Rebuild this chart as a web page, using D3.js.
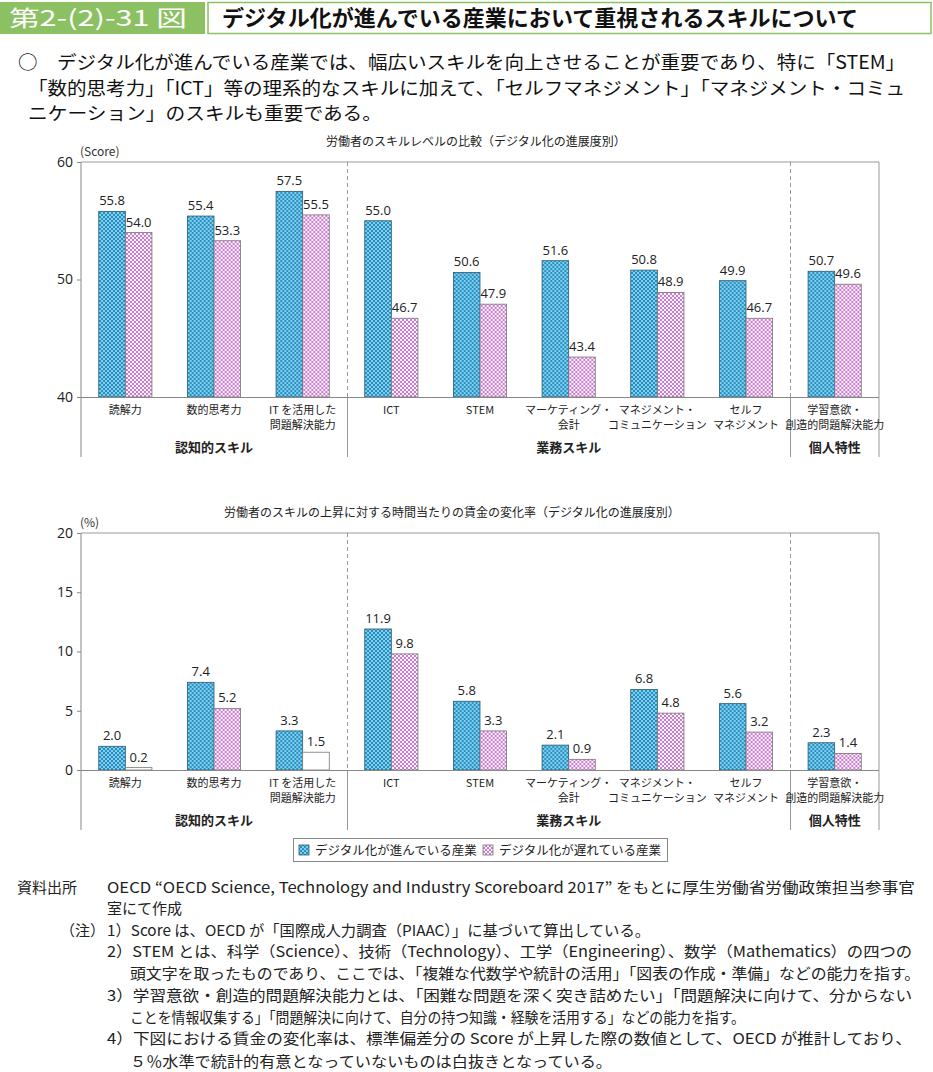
<!DOCTYPE html>
<html>
<head>
<meta charset="utf-8">
<script src="https://cdn.jsdelivr.net/npm/d3@7"></script>
<style>
  html, body { margin: 0; padding: 0; background: #fff; }
  svg { display: block; font-family: "Noto Sans CJK JP", "Noto Sans", sans-serif; }
</style>
</head>
<body>
<svg id="fig" width="933" height="1072"></svg>
<script>
// categories (multi-line labels) and groups
const categories = [
    ['読解力'],
    ['数的思考力'],
    ['IT を活用した', '問題解決能力'],
    ['ICT'],
    ['STEM'],
    ['マーケティング・', '会計'],
    ['マネジメント・', 'コミュニケーション'],
    ['セルフ', 'マネジメント'],
    ['学習意欲・', '創造的問題解決能力']
];
const groupNames = ['認知的スキル', '業務スキル', '個人特性'];
const groupSizes = [3, 5, 1];

const seriesNames = ['デジタル化が進んでいる産業', 'デジタル化が遅れている産業'];

// upper chart: score
const scoreAdvanced = [55.8, 55.4, 57.5, 55.0, 50.6, 51.6, 50.8, 49.9, 50.7];
const scoreLagging = [54.0, 53.3, 55.5, 46.7, 47.9, 43.4, 48.9, 46.7, 49.6];
const scoreTicks = [40, 50, 60];

// lower chart: wage change rate (%)
const wageAdvanced = [2.0, 7.4, 3.3, 11.9, 5.8, 2.1, 6.8, 5.6, 2.3];
const wageLagging = [0.2, 5.2, 1.5, 9.8, 3.3, 0.9, 4.8, 3.2, 1.4];
const wageLaggingSignificant = [false, true, false, true, true, true, true, true, true];
const wageTicks = [0, 5, 10, 15, 20];

const svg = d3.select('#fig');
const defs = svg.append('defs');

// blue dotted pattern
let pb = defs.append('pattern').attr('id', 'patBlue')
    .attr('patternUnits', 'userSpaceOnUse').attr('width', 4).attr('height', 4);
pb.append('rect').attr('width', 4).attr('height', 4).attr('fill', '#1f93c8');
pb.append('circle').attr('cx', 1).attr('cy', 1).attr('r', 0.9).attr('fill', '#bfe6f5');
pb.append('circle').attr('cx', 3).attr('cy', 3).attr('r', 0.9).attr('fill', '#bfe6f5');

// pink crosshatch pattern
let pp = defs.append('pattern').attr('id', 'patPink')
    .attr('patternUnits', 'userSpaceOnUse').attr('width', 4).attr('height', 4);
pp.append('rect').attr('width', 4).attr('height', 4).attr('fill', '#fbf2fb');
pp.append('path').attr('d', 'M0,0L4,4M4,0L0,4').attr('stroke', '#c46fc9').attr('stroke-width', 0.9);

// ---------- header ----------
svg.append('rect').attr('x', 0).attr('y', 2).attr('width', 205).attr('height', 32).attr('fill', '#8cc163');
svg.append('text').attr('x', 9).attr('y', 26).attr('fill', '#fff')
    .attr('font-size', 22).attr('textLength', 178).attr('lengthAdjust', 'spacingAndGlyphs')
    .text('第2-(2)-31 図');
svg.append('rect').attr('x', 208).attr('y', 2.5).attr('width', 723).attr('height', 31)
    .attr('fill', '#fff').attr('stroke', '#8cc163').attr('stroke-width', 1.5);
svg.append('text').attr('x', 222).attr('y', 26).attr('fill', '#111')
    .attr('font-size', 22).attr('font-weight', 'bold')
    .attr('textLength', 636).attr('lengthAdjust', 'spacingAndGlyphs')
    .text('デジタル化が進んでいる産業において重視されるスキルについて');

const leadLines = [
    {x: 18, y: 69, w: 887, t: '○　デジタル化が進んでいる産業では、幅広いスキルを向上させることが重要であり、特に「STEM」'},
    {x: 28, y: 95, w: 877, t: '「数的思考力」「ICT」等の理系的なスキルに加えて、「セルフマネジメント」「マネジメント・コミュ'},
    {x: 28, y: 120, w: 354, t: 'ニケーション」のスキルも重要である。'}
];
svg.selectAll('text.lead').data(leadLines).enter().append('text')
    .attr('class', 'lead')
    .attr('x', d => d.x).attr('y', d => d.y)
    .attr('font-size', 18).attr('fill', '#111')
    .attr('textLength', d => d.w).attr('lengthAdjust', 'spacingAndGlyphs')
    .text(d => d.t);

// ---------- chart drawing ----------
const left = 81, right = 879;
const x0 = d3.scaleBand().domain(d3.range(categories.length)).range([left, right]).padding(0);
const x1 = d3.scaleBand().domain([0, 1])
    .range([x0.bandwidth() * 0.2, x0.bandwidth() * 0.8]).padding(0);

// boundaries between groups
const groupStarts = [];
let acc = 0;
groupSizes.forEach(s => { groupStarts.push(acc); acc += s; });

function drawChart(opt) {
    const g = svg.append('g');
    const y = d3.scaleLinear().domain(opt.domain).range([opt.bottom, opt.top]);

    // chart title and unit
    g.append('text').attr('x', opt.titleX).attr('y', opt.top - 16)
        .attr('text-anchor', 'middle').attr('font-size', 12).attr('fill', '#222')
        .text(opt.title);
    g.append('text').attr('x', left - 1).attr('y', opt.top - 6)
        .attr('font-size', 12).attr('fill', '#333').text(opt.unit);

    // frame
    g.append('line').attr('x1', left).attr('x2', right).attr('y1', opt.top).attr('y2', opt.top)
        .attr('stroke', '#999');
    g.append('line').attr('x1', right).attr('x2', right).attr('y1', opt.top).attr('y2', opt.frameBottom)
        .attr('stroke', '#999');
    g.append('line').attr('x1', left).attr('x2', left).attr('y1', opt.top).attr('y2', opt.frameBottom)
        .attr('stroke', '#888');

    // group separators
    groupStarts.slice(1).forEach(s => {
        const sx = Math.round(x0(s)) + 0.5;
        g.append('line').attr('x1', sx).attr('x2', sx).attr('y1', opt.top).attr('y2', opt.bottom)
            .attr('stroke', '#999').attr('stroke-dasharray', '4,3');
        g.append('line').attr('x1', sx).attr('x2', sx).attr('y1', opt.bottom).attr('y2', opt.frameBottom)
            .attr('stroke', '#999');
    });

    // y axis
    const yAxis = d3.axisLeft(y).tickValues(opt.ticks).tickSize(4).tickPadding(4);
    const ya = g.append('g').attr('transform', `translate(${left},0)`).call(yAxis);
    ya.select('.domain').remove();
    ya.selectAll('.tick line').attr('stroke', '#888');
    ya.selectAll('.tick text').attr('font-size', 14).attr('fill', '#222')
        .attr('font-family', '"Open Sans", "Noto Sans", sans-serif');

    // bars
    const rows = categories.map((c, i) => ({i: i, vals: [opt.adv[i], opt.lag[i]]}));
    const cat = g.selectAll('g.cat').data(rows).enter().append('g')
        .attr('class', 'cat').attr('transform', d => `translate(${x0(d.i)},0)`);
    cat.selectAll('rect').data(d => d.vals.map((v, k) => ({v: v, k: k, i: d.i}))).enter().append('rect')
        .attr('x', d => x1(d.k))
        .attr('y', d => y(d.v))
        .attr('width', x1.bandwidth())
        .attr('height', d => y(opt.domain[0]) - y(d.v))
        .attr('fill', d => {
            if (d.k === 0) return 'url(#patBlue)';
            if (opt.sig && !opt.sig[d.i]) return '#fff';
            return 'url(#patPink)';
        })
        .attr('stroke', d => d.k === 0 ? '#2b5a70' : '#777')
        .attr('stroke-width', 0.8);
    cat.selectAll('text.val').data(d => d.vals.map((v, k) => ({v: v, k: k}))).enter().append('text')
        .attr('class', 'val')
        .attr('x', d => x1(d.k) + x1.bandwidth() / 2)
        .attr('y', d => y(d.v) - 6)
        .attr('text-anchor', 'middle').attr('font-size', 13).attr('fill', '#222')
        .attr('font-family', '"Open Sans", "Noto Sans", sans-serif')
        .text(d => d.v.toFixed(1));

    // baseline
    g.append('line').attr('x1', left).attr('x2', right)
        .attr('y1', opt.bottom + 0.5).attr('y2', opt.bottom + 0.5).attr('stroke', '#888');

    // category labels
    const lab = g.selectAll('text.cat').data(categories).enter().append('text')
        .attr('class', 'cat')
        .attr('x', (d, i) => x0(i) + x0.bandwidth() / 2)
        .attr('y', opt.bottom + 17)
        .attr('text-anchor', 'middle').attr('font-size', 11).attr('fill', '#222');
    lab.selectAll('tspan').data(d => d).enter().append('tspan')
        .attr('x', function() { return d3.select(this.parentNode).attr('x'); })
        .attr('dy', (d, j) => j === 0 ? 0 : 15)
        .text(d => d);

    // group labels
    groupNames.forEach((n, k) => {
        const gx0 = x0(groupStarts[k]);
        const gx1 = x0(groupStarts[k] + groupSizes[k] - 1) + x0.bandwidth();
        g.append('text').attr('x', (gx0 + gx1) / 2).attr('y', opt.bottom + 55)
            .attr('text-anchor', 'middle').attr('font-size', 13).attr('font-weight', 'bold')
            .attr('fill', '#222').text(n);
    });
}

drawChart({
    top: 162, bottom: 397, frameBottom: 457,
    domain: [40, 60], ticks: scoreTicks,
    adv: scoreAdvanced, lag: scoreLagging,
    title: '労働者のスキルレベルの比較（デジタル化の進展度別）', titleX: 476,
    unit: '(Score)'
});

drawChart({
    top: 533, bottom: 770, frameBottom: 830,
    domain: [0, 20], ticks: wageTicks,
    adv: wageAdvanced, lag: wageLagging, sig: wageLaggingSignificant,
    title: '労働者のスキルの上昇に対する時間当たりの賃金の変化率（デジタル化の進展度別）', titleX: 452,
    unit: '(%)'
});

// legend
const lg = svg.append('g');
lg.append('rect').attr('x', 293.5).attr('y', 838.5).attr('width', 374).attr('height', 23)
    .attr('fill', '#fff').attr('stroke', '#888');
const legendX = [299, 483];
seriesNames.forEach((n, k) => {
    lg.append('rect').attr('x', legendX[k]).attr('y', 845).attr('width', 10).attr('height', 10)
        .attr('fill', k === 0 ? 'url(#patBlue)' : 'url(#patPink)')
        .attr('stroke', k === 0 ? '#2b5a70' : '#777').attr('stroke-width', 0.8);
    lg.append('text').attr('x', legendX[k] + 16).attr('y', 855)
        .attr('font-size', 12.5).attr('fill', '#222').text(n);
});

// source and notes
const notes = [
    {x: 17, y: 893, w: 0, t: '資料出所'},
    {x: 107, y: 893, w: 808, t: 'OECD “OECD Science, Technology and Industry Scoreboard 2017” をもとに厚生労働省労働政策担当参事官'},
    {x: 107, y: 914, w: 0, t: '室にて作成'},
    {x: 60, y: 936, w: 0, t: '（注）'},
    {x: 107, y: 936, w: 543, t: '1）Score は、OECD が「国際成人力調査（PIAAC）」に基づいて算出している。'},
    {x: 107, y: 957, w: 805, t: '2）STEM とは、科学（Science）、技術（Technology）、工学（Engineering）、数学（Mathematics）の四つの'},
    {x: 130, y: 979, w: 790, t: '頭文字を取ったものであり、ここでは、「複雑な代数学や統計の活用」「図表の作成・準備」などの能力を指す。'},
    {x: 107, y: 1001, w: 805, t: '3）学習意欲・創造的問題解決能力とは、「困難な問題を深く突き詰めたい」「問題解決に向けて、分からない'},
    {x: 130, y: 1023, w: 615, t: 'ことを情報収集する」「問題解決に向けて、自分の持つ知識・経験を活用する」などの能力を指す。'},
    {x: 107, y: 1044, w: 805, t: '4）下図における賃金の変化率は、標準偏差分の Score が上昇した際の数値として、OECD が推計しており、'},
    {x: 130, y: 1067, w: 482, t: '５％水準で統計的有意となっていないものは白抜きとなっている。'}
];
const nt = svg.selectAll('text.note').data(notes).enter().append('text')
    .attr('class', 'note')
    .attr('x', d => d.x).attr('y', d => d.y)
    .attr('font-size', 15).attr('fill', '#222')
    .text(d => d.t);
nt.filter(d => d.w > 0)
    .attr('textLength', d => d.w).attr('lengthAdjust', 'spacingAndGlyphs');
</script>
</body>
</html>
